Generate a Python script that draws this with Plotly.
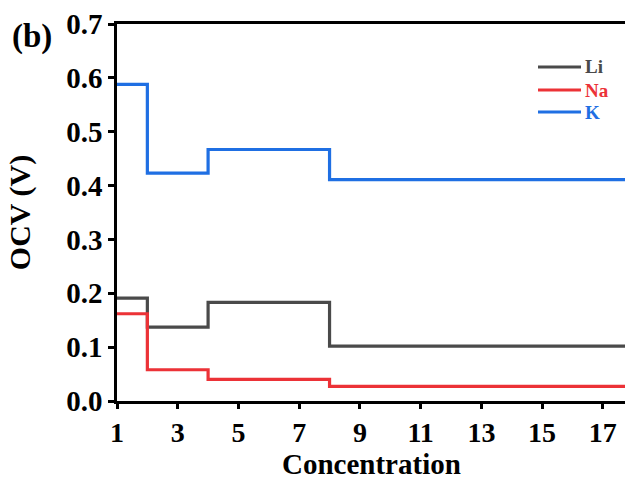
import plotly.graph_objects as go

conc = [1, 2, 4, 8, 18]
li = [0.191, 0.137, 0.183, 0.102, 0.102]
na = [0.162, 0.058, 0.040, 0.027, 0.027]
k = [0.588, 0.423, 0.467, 0.411, 0.411]
names = ["Li", "Na", "K"]
colors = ["#4a4a4a", "#ec3237", "#1f6fe3"]

W, H = 625, 479
L, R, T, B = 117, 0, 24, 78
FONT = "Liberation Serif"

fig = go.Figure()
for name, ys, c in zip(names, [li, na, k], colors):
    fig.add_trace(go.Scatter(
        x=conc, y=ys, mode="lines", line=dict(shape="hv", color=c, width=3.2),
        name=name, showlegend=False))

def px2x(px):
    return (px - L) / (W - L - R)

def py2y(py):
    return 1 - (py - T) / (H - T - B)

# legend drawn as short line samples with coloured labels
leg_y = [67, 90, 112]
for name, c, py in zip(names, colors, leg_y):
    fig.add_shape(type="line", xref="paper", yref="paper",
                  x0=px2x(538), x1=px2x(581), y0=py2y(py), y1=py2y(py),
                  line=dict(color=c, width=3))
    fig.add_annotation(text=f"<b>{name}</b>", xref="paper", yref="paper",
                       x=px2x(583), y=py2y(py), xanchor="left", yanchor="middle",
                       showarrow=False, font=dict(size=19, family=FONT, color=c))

fig.update_layout(
    width=W, height=H, margin=dict(l=L, r=R, t=T, b=B),
    plot_bgcolor="white", paper_bgcolor="white",
    font=dict(family=FONT, color="black"),
    showlegend=False,
    xaxis=dict(range=[1, 17.73], tickvals=[1, 3, 5, 7, 9, 11, 13, 15, 17],
               showgrid=False, zeroline=False, showline=True, linecolor="black",
               linewidth=2.5, mirror=True, ticks="outside", ticklen=5, tickwidth=2.5,
               tickcolor="black",
               tickfont=dict(size=28, family=FONT, weight="bold")),
    yaxis=dict(range=[0, 0.7], dtick=0.1, tickformat=".1f",
               showgrid=False, zeroline=False, showline=True, linecolor="black",
               linewidth=2.5, ticks="outside", ticklen=6, tickwidth=2.5, tickcolor="black",
               tickfont=dict(size=29, family=FONT, weight="bold"),
               title=dict(text="<b>OCV (V)</b>", font=dict(size=30, family=FONT), standoff=27)),
)
fig.add_annotation(text="<b>Concentration</b>", xref="paper", yref="paper",
                   x=0.5, y=py2y(464), xanchor="center", yanchor="middle",
                   showarrow=False, borderpad=0, font=dict(size=29, family=FONT))
fig.add_annotation(text="<b>(b)</b>", xref="paper", yref="paper",
                   x=px2x(10), y=py2y(37), xanchor="left", yanchor="middle",
                   showarrow=False, font=dict(size=33, family=FONT))
fig.write_html("out.html")
